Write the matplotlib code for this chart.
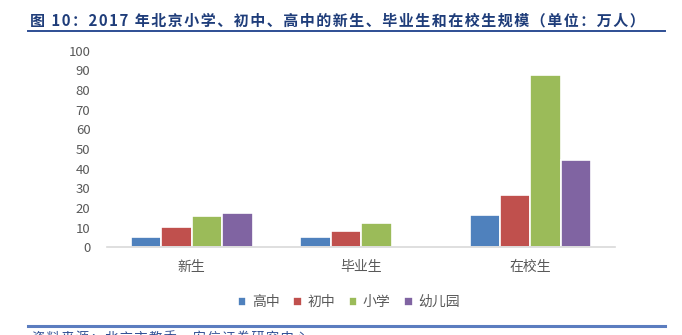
import numpy as np
import matplotlib
matplotlib.use('Agg')
import matplotlib.pyplot as plt
from matplotlib.lines import Line2D

plt.rcParams['font.family'] = ['Noto Sans CJK SC', 'DejaVu Sans']

# 2017 北京各学段学生规模（万人）
categories = ['新生', '毕业生', '在校生']
levels = ['高中', '初中', '小学', '幼儿园']
gaozhong = [5.2, 5.2, 16.4]
chuzhong = [10.1, 8.3, 26.5]
xiaoxue = [15.7, 12.5, 87.5]
youeryuan = [17.4, 0, 44.5]
colors = ['#4F81BD', '#C0504D', '#9BBB59', '#8064A2']

title = '图 10：2017 年北京小学、初中、高中的新生、毕业生和在校生规模（单位：万人）'
source = '资料来源：北京市教委，安信证券研究中心'

fig = plt.figure(figsize=(6.82, 3.35), dpi=100)
ax = fig.add_axes([0.157, 0.262, 0.745, 0.587])

x = np.arange(len(categories))
w = 0.18
for i, vals in enumerate([gaozhong, chuzhong, xiaoxue, youeryuan]):
    ax.bar(x + (i - 1.5) * w, vals, width=w, color=colors[i],
           edgecolor='white', linewidth=1.2, label=levels[i], zorder=2)

ax.set_xlim(-0.5, 2.5)
ax.set_ylim(0, 100)
ax.set_yticks(range(0, 101, 10))
ax.set_xticks(x)
ax.set_xticklabels(categories, fontsize=10, color='#595959')
ax.tick_params(axis='y', length=0, labelsize=9.5, labelcolor='#595959', pad=12)
ax.tick_params(axis='x', length=0, pad=9)
for s in ['top', 'right', 'left']:
    ax.spines[s].set_visible(False)
ax.spines['bottom'].set_color('#D9D9D9')
ax.spines['bottom'].set_linewidth(1.2)
ax.spines['bottom'].set_zorder(3)

leg = ax.legend(loc='upper center', bbox_to_anchor=(0.476, -0.18), ncol=4,
                frameon=False, fontsize=10, handlelength=0.6, handleheight=0.6,
                handletextpad=0.4, columnspacing=1.0)
for t in leg.get_texts():
    t.set_color('#595959')

# 标题（字间加细空格）与分隔线
spaced = '\u200a'.join(title)
fig.text(0.044, 0.94, spaced, fontsize=10.8, fontweight='bold',
         color='#1F3D7A', va='center', family=['Noto Sans CJK SC', 'DejaVu Sans'])
fig.add_artist(Line2D([0.041, 0.975], [0.907, 0.907], color='#2E4E94', linewidth=1.4))
fig.add_artist(Line2D([0.041, 0.975], [0.028, 0.028], color='#5B7DBF', linewidth=2.2))
fig.text(0.047, -0.012, '\u200a'.join(source), fontsize=9.5,
         style='italic', color='#2E4E94', va='center')

fig.savefig('out.png', dpi=100)
